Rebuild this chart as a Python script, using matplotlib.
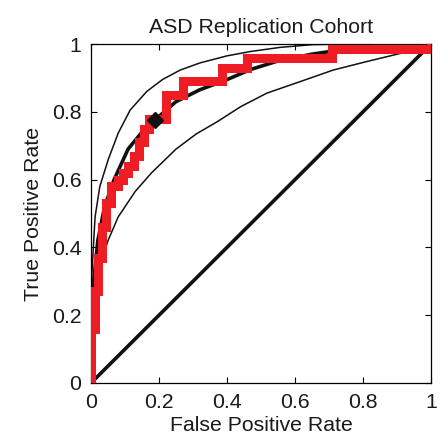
import matplotlib
matplotlib.use("Agg")
import matplotlib.pyplot as plt

# =========================
# data
# =========================
# observed ROC (staircase), each x gets the tpr reached at that x
roc_fpr = [0.0, 0.0, 0.012, 0.022, 0.032, 0.045, 0.06, 0.08, 0.095, 0.11,
           0.125, 0.14, 0.155, 0.17, 0.22, 0.27, 0.385, 0.46, 0.71, 1.0]
roc_tpr = [0.0, 0.16, 0.27, 0.37, 0.46, 0.53, 0.58, 0.60, 0.62, 0.64,
           0.67, 0.71, 0.75, 0.78, 0.85, 0.89, 0.93, 0.96, 0.985, 1.0]

# smoothed mean ROC
mean_fpr = [0.0, 0.002, 0.008, 0.02, 0.04, 0.068, 0.109, 0.15, 0.188, 0.25,
            0.32, 0.40, 0.47, 0.55, 0.65, 0.75, 0.85, 1.0]
mean_tpr = [0.0, 0.15, 0.30, 0.42, 0.52, 0.60, 0.69, 0.74, 0.776, 0.83,
            0.865, 0.895, 0.925, 0.95, 0.97, 0.985, 0.995, 1.0]

# upper / lower confidence bounds
upper_fpr = [0.0, 0.0, 0.003, 0.012, 0.026, 0.051, 0.08, 0.115, 0.164, 0.21,
             0.262, 0.32, 0.40, 0.47, 0.556, 0.65, 0.75, 1.0]
upper_tpr = [0.0, 0.27, 0.33, 0.49, 0.58, 0.66, 0.737, 0.805, 0.86, 0.895,
             0.923, 0.944, 0.965, 0.978, 0.99, 0.998, 1.0, 1.0]

lower_fpr = [0.0, 0.008, 0.021, 0.05, 0.08, 0.13, 0.178, 0.25, 0.31, 0.37,
             0.44, 0.517, 0.615, 0.712, 0.81, 0.909, 1.0]
lower_tpr = [0.0, 0.2, 0.333, 0.42, 0.49, 0.565, 0.62, 0.69, 0.735, 0.77,
             0.815, 0.855, 0.889, 0.923, 0.948, 0.972, 1.0]

# operating point
op_fpr = [0.188]
op_tpr = [0.776]

ticks = [0, 0.2, 0.4, 0.6, 0.8, 1]
tick_labels = ["0", "0.2", "0.4", "0.6", "0.8", "1"]

TXT = "#1a1a1a"
RED = "#ee1d23"
FS = 15.3

plt.rcParams["font.family"] = ["Liberation Sans", "DejaVu Sans"]

fig = plt.figure(figsize=(4.43, 4.42), dpi=100)
ax = fig.add_axes([91 / 443, 59 / 442, 340 / 443, 339 / 442])

# chance line
ax.plot([0, 1], [0, 1], color="#111111", linewidth=2.6, zorder=2)

# confidence bounds
ax.plot(upper_fpr, upper_tpr, color="#111111", linewidth=1.1, zorder=2)
ax.plot(lower_fpr, lower_tpr, color="#111111", linewidth=1.1, zorder=2)

# mean curve
ax.plot(mean_fpr, mean_tpr, color="#111111", linewidth=2.6, zorder=3)

# observed ROC: rise at each fpr value, then run right
ax.step(roc_fpr, roc_tpr, where="post", color=RED, linewidth=6.5,
        solid_joinstyle="miter", zorder=4)

# operating point
ax.plot(op_fpr, op_tpr, marker="D", markersize=8, color="#111111",
        linestyle="none", zorder=5)

ax.set_xlim(0, 1)
ax.set_ylim(0, 1)
ax.set_xticks(ticks)
ax.set_xticklabels(tick_labels)
ax.set_yticks(ticks)
ax.set_yticklabels(tick_labels)
ax.tick_params(direction="in", top=True, right=True, length=4, width=0.8,
               labelsize=FS, labelcolor=TXT, pad=7)
for s in ax.spines.values():
    s.set_linewidth(0.9)

ax.set_xlabel("False Positive Rate", fontsize=FS, color=TXT, labelpad=3)
ax.set_ylabel("True Positive Rate", fontsize=FS, color=TXT, labelpad=6)
ax.set_title("ASD Replication Cohort", fontsize=FS, color=TXT, pad=8)

fig.savefig("out.png", dpi=100)
